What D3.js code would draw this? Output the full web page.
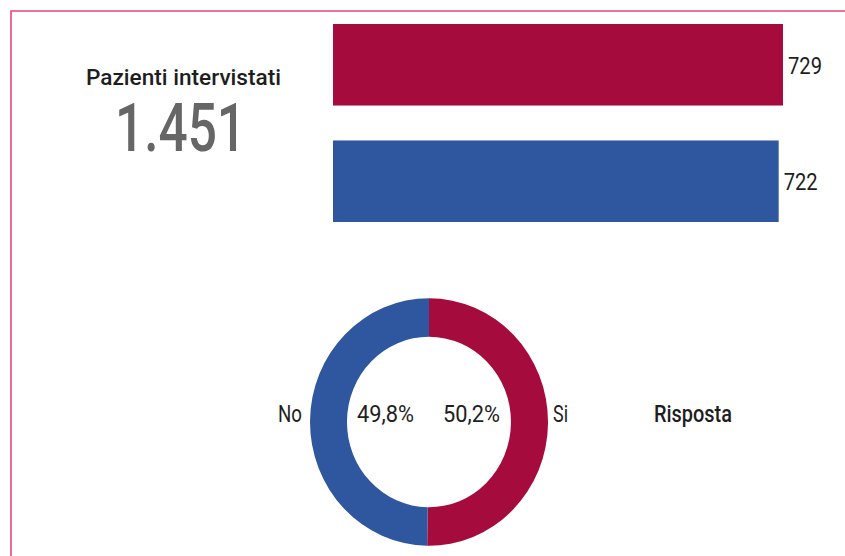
<!DOCTYPE html>
<html>
<head>
<meta charset="utf-8">
<script src="https://cdn.jsdelivr.net/npm/d3@7"></script>
<style>
  html, body { margin: 0; padding: 0; background: #fff; }
  svg { display: block; }
  text { font-family: Roboto, "Liberation Sans", Arial, sans-serif; }
</style>
</head>
<body>
<svg id="chart" width="845" height="556"></svg>
<script>
// ---- data ----
const categories = ["Si", "No"];
const counts = [729, 722];
const pctLabels = ["50,2%", "49,8%"];
const totalLabel = "1.451";
const titleLabel = "Pazienti intervistati";
const pieTitle = "Risposta";
const colors = ["#A60B3D", "#2F57A0"];

const svg = d3.select("#chart");

// frame (cropped)
svg.append("path")
  .attr("d", "M11,556 V11 H845")
  .attr("fill", "none")
  .attr("stroke", "#E8457A")
  .attr("stroke-width", 1.6);

// title + total
svg.append("text")
  .attr("x", 86).attr("y", 84.5)
  .attr("font-size", 21.5)
  .attr("font-weight", 500)
  .attr("fill", "#1e1e1e")
  .attr("textLength", 195)
  .attr("lengthAdjust", "spacingAndGlyphs")
  .text(titleLabel);

svg.append("text")
  .attr("x", 115).attr("y", 151)
  .attr("font-size", 66)
  .attr("font-weight", 500)
  .attr("fill", "#666666")
  .attr("textLength", 131)
  .attr("lengthAdjust", "spacingAndGlyphs")
  .text(totalLabel);

// bars
const x = d3.scaleLinear().domain([0, 729]).range([333, 783]);
const y = d3.scaleBand().domain(categories).range([24, 222]).paddingInner(0.3);

const data = categories.map((c, i) => ({ cat: c, value: counts[i], color: colors[i] }));

svg.selectAll("rect.bar").data(data).join("rect")
  .attr("class", "bar")
  .attr("x", x(0))
  .attr("y", d => y(d.cat))
  .attr("width", d => x(d.value) - x(0))
  .attr("height", y.bandwidth())
  .attr("fill", d => d.color);

svg.selectAll("text.val").data(data).join("text")
  .attr("class", "val")
  .attr("x", d => x(d.value) + 5)
  .attr("y", d => y(d.cat) + y.bandwidth() / 2 + 9)
  .attr("font-size", 24)
  .attr("fill", "#1e1e1e")
  .attr("textLength", 34)
  .attr("lengthAdjust", "spacingAndGlyphs")
  .text(d => d.value);

// donut
const cx = 429, cy = 422;
const pie = d3.pie().sort(null).value(d => d.value);
const arc = d3.arc().innerRadius(82).outerRadius(119);
const g = svg.append("g").attr("transform", `translate(${cx},${cy}) scale(1,1.04)`);
g.selectAll("path").data(pie(data)).join("path")
  .attr("d", arc)
  .attr("fill", d => d.data.color);

// donut labels
const lblY = 422;
const labels = [
  { t: "No", x: 278, w: 24, fw: 400 },
  { t: pctLabels[1], x: 357, w: 57, fw: 400 },
  { t: pctLabels[0], x: 443, w: 57, fw: 400 },
  { t: "Si", x: 553, w: 15, fw: 400 },
  { t: pieTitle, x: 654, w: 78, fw: 500 }
];
svg.selectAll("text.lbl").data(labels).join("text")
  .attr("class", "lbl")
  .attr("x", d => d.x).attr("y", lblY)
  .attr("font-size", 23)
  .attr("font-weight", d => d.fw)
  .attr("fill", "#1e1e1e")
  .attr("textLength", d => d.w)
  .attr("lengthAdjust", "spacingAndGlyphs")
  .text(d => d.t);
</script>
</body>
</html>
